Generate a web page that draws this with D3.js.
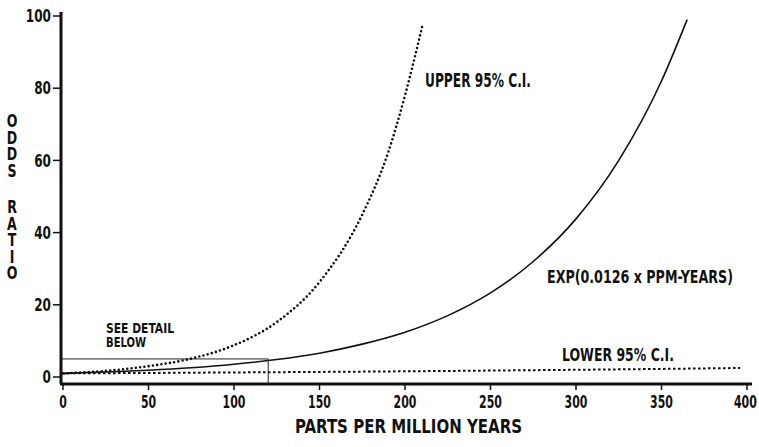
<!DOCTYPE html>
<html>
<head>
<meta charset="utf-8">
<script src="https://cdn.jsdelivr.net/npm/d3@7"></script>
<style>
  body { margin:0; background:#fff; }
  svg text { font-family:"Liberation Sans Narrow","DejaVu Sans Condensed","Liberation Sans",sans-serif; font-weight:bold; fill:#111; }
</style>
</head>
<body>
<script>
// values (ppm-years, odds ratio)
var estX   = [0, 25, 50, 75, 100, 125, 150, 175, 200, 225, 250, 275, 300, 325, 350, 365];
var estY   = [1, 1.37, 1.88, 2.57, 3.53, 4.83, 6.6, 9.1, 12.4, 17, 23.3, 32, 43.8, 60, 82, 99];
var upperX = [0, 25, 50, 75, 100, 125, 150, 175, 190, 200, 210];
var upperY = [1, 1.7, 3, 5.1, 8.8, 15.2, 26.3, 45, 62, 78, 97];
var lowerX = [0, 50, 100, 150, 200, 250, 300, 350, 396];
var lowerY = [1, 1.12, 1.26, 1.41, 1.58, 1.78, 2, 2.24, 2.5];
var xTicks = [0, 50, 100, 150, 200, 250, 300, 350, 400];
var yTicks = [0, 20, 40, 60, 80, 100];
var detailBox = {x: 120, y: 5};

var width = 759, height = 447;
var svg = d3.select("body").append("svg")
	.attr("width", width)
	.attr("height", height);

var x = d3.scaleLinear().domain([0, 400]).range([63, 747]),
	y = d3.scaleLinear().domain([0, 100]).range([377, 16]);

var axisX = 384, axisY = 61;

var line = d3.line()
	.x(function(d) { return x(d[0]); })
	.y(function(d) { return y(d[1]); })
	.curve(d3.curveMonotoneX);

function pts(xs, ys) { return xs.map(function(v, i) { return [v, ys[i]]; }); }

/// detail box
svg.append("path")
	.attr("d", "M" + axisY + "," + y(detailBox.y) + "H" + x(detailBox.x) + "V" + axisX)
	.attr("fill", "none")
	.style("stroke", "#222")
	.style("stroke-width", 1);

/// curves
svg.append("path")
	.datum(pts(estX, estY))
	.attr("d", line)
	.attr("fill", "none")
	.style("stroke", "#111")
	.style("stroke-width", 1.6);

svg.append("path")
	.datum(pts(upperX, upperY))
	.attr("d", line)
	.attr("fill", "none")
	.style("stroke", "#111")
	.style("stroke-width", 2.6)
	.style("stroke-linecap", "round")
	.style("stroke-dasharray", "0,4.3");

svg.append("path")
	.datum(pts(lowerX, lowerY))
	.attr("d", line)
	.attr("fill", "none")
	.style("stroke", "#111")
	.style("stroke-width", 2)
	.style("stroke-dasharray", "2.6,2.4");

/// axes
var gx = svg.append("g").attr("transform", "translate(0," + axisX + ")");
gx.append("line")
	.attr("x1", axisY - 1).attr("x2", 752)
	.style("stroke", "#111").style("stroke-width", 3);
gx.selectAll(".tick").data(xTicks).enter().append("line")
	.attr("x1", function(d) { return x(d); })
	.attr("x2", function(d) { return x(d); })
	.attr("y1", 0).attr("y2", 6)
	.style("stroke", "#111").style("stroke-width", 1.5);
gx.selectAll(".lab").data(xTicks).enter().append("text")
	.attr("x", function(d) { return Math.min(x(d) - String(d).length * 3.8, 734); })
	.attr("y", 24)
	.attr("textLength", function(d) { return String(d).length * 7.6; })
	.attr("lengthAdjust", "spacingAndGlyphs")
	.style("font-size", "17px")
	.text(function(d) { return d; });

var gy = svg.append("g").attr("transform", "translate(" + axisY + ",0)");
gy.append("line")
	.attr("y1", 12).attr("y2", axisX)
	.style("stroke", "#111").style("stroke-width", 3);
gy.selectAll(".tick").data(yTicks).enter().append("line")
	.attr("x1", -8).attr("x2", 0)
	.attr("y1", function(d) { return y(d); })
	.attr("y2", function(d) { return y(d); })
	.style("stroke", "#111").style("stroke-width", 1.5);
gy.selectAll(".lab").data(yTicks).enter().append("text")
	.attr("x", function(d) { return -10 - String(d).length * 8.4; })
	.attr("y", function(d) { return y(d); })
	.attr("dy", "0.36em")
	.attr("textLength", function(d) { return String(d).length * 8.4; })
	.attr("lengthAdjust", "spacingAndGlyphs")
	.style("font-size", "17px")
	.text(function(d) { return d; });

/// axis titles
svg.append("text")
	.attr("x", 295).attr("y", 433)
	.attr("textLength", 227).attr("lengthAdjust", "spacingAndGlyphs")
	.style("font-size", "20px")
	.text("PARTS PER MILLION YEARS");

// stacked vertical title, letters squeezed so each fits its own row
var yTitle = "ODDS RATIO".split("");
var yt = svg.append("text")
	.attr("text-anchor", "middle")
	.style("font-size", "14px")
	.attr("transform", "scale(1,1.25)");
var gap = 0;
yTitle.forEach(function(c, i) {
	if (c === " ") { gap = 15.6; return; }
	yt.append("tspan")
		.attr("x", 12)
		.attr(i === 0 ? "y" : "dy", i === 0 ? 127 / 1.25 : 13.3 + gap)
		.text(c);
	gap = 0;
});

/// labels
function label(t, x0, y0, w, size) {
	svg.append("text")
		.attr("x", x0).attr("y", y0)
		.attr("textLength", w).attr("lengthAdjust", "spacingAndGlyphs")
		.style("font-size", size + "px")
		.text(t);
}
label("SEE DETAIL", 106, 333, 68, 14);
label("BELOW", 106, 347, 40, 14);
label("UPPER 95% C.I.", 425, 87, 106, 19);
label("EXP(0.0126 x PPM-YEARS)", 547, 283, 186, 17);
label("LOWER 95% C.I.", 562, 361, 112, 17);
</script>
</body>
</html>
